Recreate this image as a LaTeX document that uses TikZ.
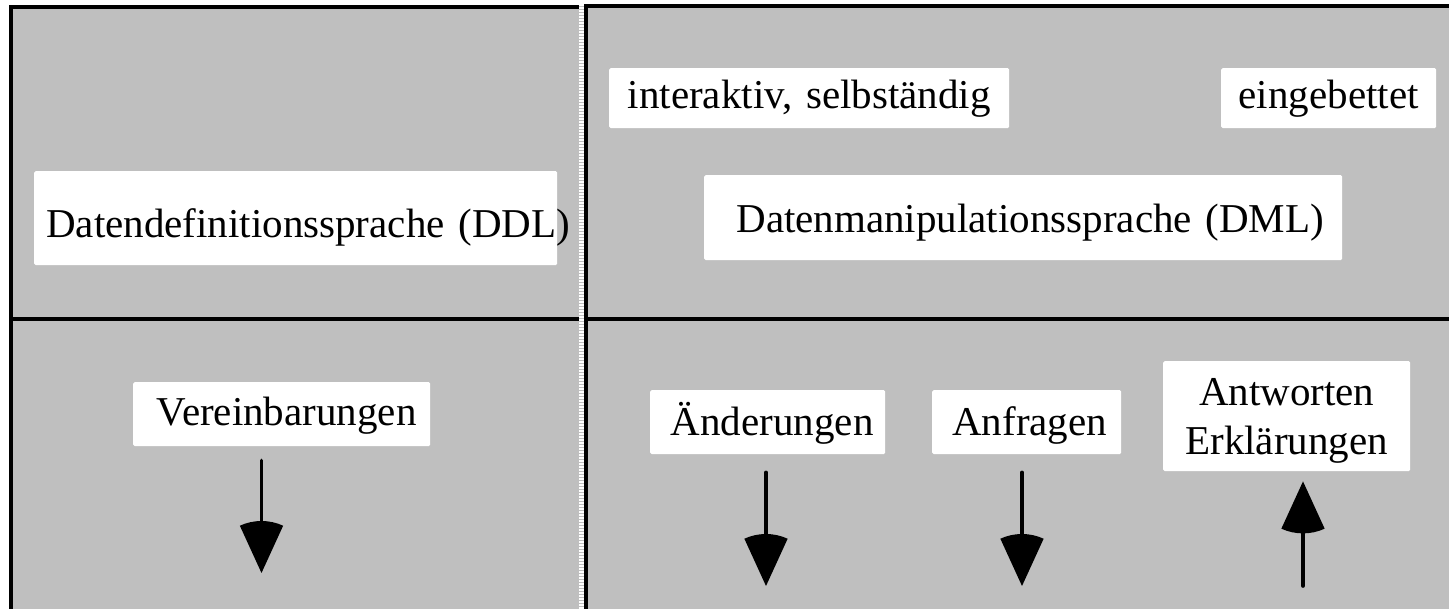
\documentclass[tikz,border=0pt]{standalone}
\usepackage{fontspec}
\setmainfont{Liberation Serif}

% Filled circular-sector arrow head: tip at the origin, arc centred on the tip
\pgfdeclarearrow{
  name = Sector,
  setup code = {
    \pgfarrowssettipend{0pt}
    \pgfarrowssetbackend{-52pt}
    \pgfarrowssetlineend{-44pt}
    \pgfarrowssetvisualbackend{-47pt}
  },
  drawing code = {
    \pgfpathmoveto{\pgfpointorigin}
    \pgfpathlineto{\pgfpointpolar{155.4}{52pt}}
    \pgfpatharc{155.4}{204.6}{52pt}
    \pgfpathclose
    \pgfusepathqfill
  }
}

\begin{document}
\begin{tikzpicture}[x=1pt,y=1pt,
  panel/.style={fill={rgb,255:red,191;green,191;blue,191}},
  rule/.style={line width=4pt, black},
  lbl/.style={fill=white, inner sep=0pt, rounded corners=1.5pt, anchor=north west,
              align=center, font=\fontsize{41}{48.5}\selectfont},
  flow/.style={line width=3.6pt, line cap=round, -Sector}
]
\useasboundingbox (0,0) rectangle (1449,609);

% shaded panels
\fill[panel] (8.5,0) rectangle (584,603.5);
\fill[panel] (584,0) rectangle (1449,604.5);
% striped seam between the panels
\draw[white, line width=5pt, dash pattern=on 2pt off 1pt] (581.5,0) -- (581.5,604.5);

% frame and dividers
\draw[rule] (10.5,0) -- (10.5,601.5) -- (579,601.5);
\draw[rule] (586,0) -- (586,602.5) -- (1449,602.5);
\draw[rule] (10.5,290) -- (579,290);
\draw[rule] (586,290) -- (1449,290);

% labels
\node[lbl, align=left, text width=523pt, text height=66pt, text depth=28pt] (ddl) at (34,438)
  {\hspace*{12pt}\mbox{Datendefinitionssprache (DDL)}};
\node[lbl, text width=400pt, text height=40.5pt, text depth=19.5pt] (inter) at (609,541)
  {interaktiv, selbständig};
\node[lbl, text width=215pt, text height=40.5pt, text depth=19.5pt] (einge) at (1221,541)
  {eingebettet};
\node[lbl, text width=638pt, text height=57.7pt, text depth=27.3pt] (dml) at (704,434)
  {\hspace*{14pt}Datenmanipulationssprache (DML)};
\node[lbl, text width=297pt, text height=43pt, text depth=21pt] (vb) at (133,227)
  {\hspace*{10pt}Vereinbarungen};
\node[lbl, text width=235pt, text height=45pt, text depth=19pt] (aend) at (650,219)
  {\hspace*{9pt}Änderungen};
\node[lbl, text width=189pt, text height=45pt, text depth=19pt] (anf) at (932,219)
  {\hspace*{6pt}Anfragen};
\node[lbl, text width=247pt, text height=44.7pt, text depth=65.3pt] (antw) at (1163,248)
  {Antworten\\Erklärungen};

% arrows
\coordinate (t1) at (261.5,36);
\coordinate (t2) at (766,23);
\coordinate (t3) at (1022,23);
\coordinate (t4) at (1303,23);
\draw[flow, shorten <=14pt] (vb.south -| t1) -- (t1);
\draw[flow, shorten <=18pt] (aend.south -| t2) -- (t2);
\draw[flow, shorten <=18pt] (anf.south -| t3) -- (t3);
\draw[flow, shorten >=10pt] (t4) -- (antw.south -| t4);
\end{tikzpicture}
\end{document}
